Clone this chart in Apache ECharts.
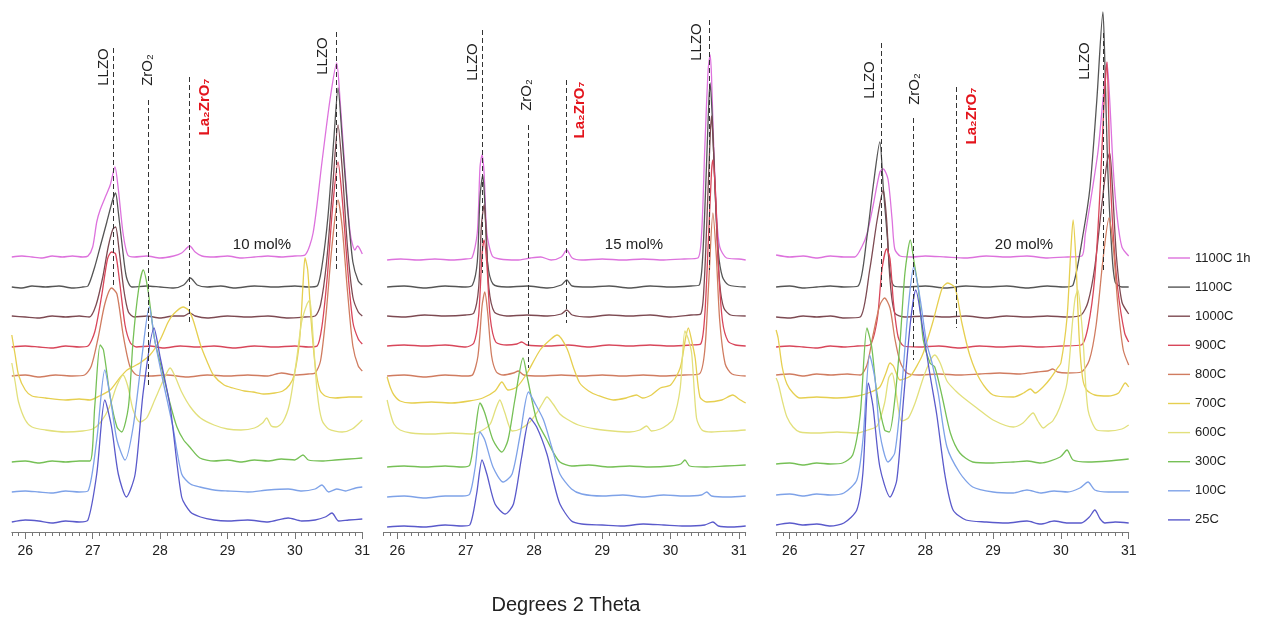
<!DOCTYPE html>
<html>
<head>
<meta charset="utf-8">
<title>XRD LLZO</title>
<script src="https://cdn.jsdelivr.net/npm/echarts@6/dist/echarts.min.js"></script>
</head>
<body style="margin:0">
<div id="container" style="width:1265px;height:622px"></div>
<script>
var FONT = '"Liberation Sans", Arial, Helvetica, sans-serif';

var temps = ['1100C 1h', '1100C', '1000C', '900C', '800C', '700C', '600C', '300C', '100C', '25C'];
var colors = ['#dd72dd', '#555555', '#7d4a52', '#d8465a', '#d07c60', '#e6cf50', '#e2e07c', '#76c056', '#7ea2e8', '#5a5acb'];

// offsets of each pattern (height of its baseline above the axis)
var base10 = [275, 245, 215, 185, 156, 132, 100, 70, 40, 10];
var base15 = [272, 245, 216, 186, 156, 129, 98, 65, 35, 5];
var base20 = [275, 245, 215, 185, 157, 134, 99, 67, 37, 7];

// ---- 10 mol% : [2theta, intensity above baseline]
var c10_1100h = [[25.80,0],[25.95,1],[26.10,0],[26.25,-1],[26.40,1],[26.55,0],[26.70,1],[26.85,0],[26.93,1],[27.00,10],[27.06,35],[27.11,47],[27.20,62],[27.26,72],[27.33,90],[27.38,68],[27.45,24],[27.52,2],[27.62,0],[27.80,1],[28.00,-1],[28.20,1],[28.32,4],[28.44,11],[28.52,5],[28.62,1],[28.80,0],[29.00,1],[29.20,-1],[29.40,0],[29.60,1],[29.80,0],[30.00,1],[30.15,2],[30.27,24],[30.40,94],[30.52,157],[30.62,194],[30.67,157],[30.74,90],[30.82,24],[30.89,7],[30.93,11],[31.00,3]];
var c10_1100 = [[25.80,0],[25.95,-1],[26.10,1],[26.30,0],[26.50,1],[26.70,-1],[26.85,0],[26.93,1],[27.03,20],[27.11,40],[27.21,65],[27.30,88],[27.34,94],[27.38,75],[27.44,40],[27.50,10],[27.58,0],[27.80,1],[28.00,0],[28.20,-1],[28.35,2],[28.45,9],[28.55,2],[28.70,0],[28.90,1],[29.10,-1],[29.40,1],[29.70,0],[30.00,1],[30.20,0],[30.33,1],[30.40,20],[30.49,70],[30.58,150],[30.64,199],[30.70,150],[30.78,80],[30.86,25],[30.94,6],[31.00,2]];
var c10_1000 = [[25.80,1],[26.00,0],[26.20,-1],[26.40,1],[26.60,0],[26.80,1],[26.95,0],[27.05,12],[27.15,40],[27.23,70],[27.30,88],[27.34,90],[27.39,68],[27.46,28],[27.53,5],[27.62,0],[27.80,1],[28.00,-1],[28.20,1],[28.35,1],[28.44,4],[28.52,1],[28.70,-1],[29.00,1],[29.30,0],[29.60,1],[29.90,-1],[30.15,0],[30.30,1],[30.38,12],[30.47,55],[30.56,130],[30.64,192],[30.70,150],[30.78,70],[30.86,20],[30.94,5],[31.00,1]];
var c10_900 = [[25.80,0],[26.00,1],[26.20,0],[26.40,-1],[26.60,1],[26.80,0],[26.93,1],[27.03,15],[27.13,50],[27.22,88],[27.28,95],[27.34,93],[27.40,65],[27.48,22],[27.56,4],[27.65,0],[27.85,1],[28.05,-1],[28.30,1],[28.55,0],[28.80,1],[29.10,-1],[29.40,1],[29.70,0],[30.00,1],[30.20,0],[30.33,1],[30.40,20],[30.48,70],[30.56,140],[30.64,185],[30.70,150],[30.78,80],[30.86,25],[30.94,8],[31.00,3]];
var c10_800 = [[25.80,0],[26.00,1],[26.20,-1],[26.45,1],[26.70,0],[26.88,1],[26.98,10],[27.08,38],[27.18,72],[27.28,88],[27.36,82],[27.45,42],[27.55,10],[27.65,1],[27.85,0],[28.10,1],[28.40,-1],[28.70,1],[29.00,0],[29.30,1],[29.60,0],[29.80,3],[30.00,1],[30.20,2],[30.30,3],[30.38,15],[30.46,60],[30.55,130],[30.64,176],[30.70,150],[30.78,85],[30.86,30],[30.94,10],[31.00,5]];
var c10_700 = [[25.80,65],[25.85,45],[25.90,25],[26.00,10],[26.10,4],[26.30,2],[26.60,0],[26.80,1],[26.96,0],[27.10,4],[27.26,10],[27.40,22],[27.51,30],[27.62,34],[27.70,37],[27.85,45],[28.00,60],[28.12,78],[28.20,86],[28.34,93],[28.42,90],[28.49,80],[28.60,55],[28.70,38],[28.79,25],[28.95,15],[29.08,12],[29.25,9],[29.38,8],[29.55,6],[29.70,7],[29.82,9],[29.92,15],[29.99,25],[30.07,60],[30.12,115],[30.15,142],[30.19,130],[30.24,80],[30.30,35],[30.37,10],[30.45,4],[30.60,2],[30.80,3],[31.00,3]];
var c10_600 = [[25.80,69],[25.85,50],[25.90,30],[26.00,12],[26.10,5],[26.30,2],[26.60,0],[26.85,1],[27.00,3],[27.12,10],[27.25,25],[27.35,45],[27.45,57],[27.52,46],[27.60,22],[27.70,10],[27.80,14],[27.92,32],[28.05,52],[28.15,64],[28.22,56],[28.32,40],[28.45,25],[28.60,14],[28.80,7],[29.00,3],[29.20,2],[29.40,4],[29.52,9],[29.58,14],[29.65,6],[29.72,5],[29.82,10],[29.92,28],[30.02,70],[30.10,110],[30.18,128],[30.22,132],[30.27,95],[30.33,40],[30.40,12],[30.50,3],[30.70,0],[30.85,3],[31.00,12]];
var c10_300 = [[25.80,0],[26.00,1],[26.20,-1],[26.40,1],[26.60,0],[26.80,1],[26.96,1],[27.03,55],[27.11,117],[27.16,112],[27.26,65],[27.36,35],[27.43,30],[27.53,55],[27.60,122],[27.68,172],[27.75,192],[27.82,172],[27.92,122],[28.04,89],[28.15,58],[28.25,35],[28.35,22],[28.44,15],[28.59,4],[28.80,1],[29.00,2],[29.20,0],[29.40,2],[29.60,1],[29.80,3],[30.00,2],[30.12,7],[30.20,2],[30.40,1],[30.60,2],[30.80,3],[31.00,4]];
var c10_100 = [[25.80,0],[26.00,1],[26.20,0],[26.40,-1],[26.60,1],[26.80,0],[26.93,1],[27.06,52],[27.18,122],[27.26,95],[27.36,52],[27.48,32],[27.60,65],[27.73,135],[27.84,185],[27.92,152],[28.04,112],[28.19,65],[28.32,18],[28.45,8],[28.59,5],[28.80,2],[29.00,1],[29.30,0],[29.60,2],[29.90,3],[30.10,1],[30.30,3],[30.40,7],[30.50,0],[30.62,3],[30.75,1],[30.90,4],[31.00,5]];
var c10_25 = [[25.80,0],[26.00,2],[26.20,1],[26.40,-1],[26.60,1],[26.80,0],[26.93,2],[27.06,48],[27.18,122],[27.28,95],[27.38,48],[27.50,25],[27.63,48],[27.75,130],[27.91,194],[28.00,165],[28.15,115],[28.32,25],[28.45,10],[28.60,5],[28.80,2],[29.00,1],[29.30,2],[29.60,0],[29.90,4],[30.10,1],[30.30,2],[30.45,5],[30.55,9],[30.65,1],[30.80,2],[31.00,3]];

// ---- 15 mol%
var c15_1100h = [[25.85,0],[26.05,1],[26.30,0],[26.55,1],[26.80,0],[27.00,1],[27.09,2],[27.17,27],[27.21,93],[27.24,105],[27.27,87],[27.31,27],[27.39,4],[27.50,1],[27.75,0],[27.95,2],[28.10,3],[28.25,0],[28.40,3],[28.48,10],[28.56,2],[28.70,0],[29.00,1],[29.30,0],[29.60,1],[29.90,0],[30.20,1],[30.40,2],[30.455,27],[30.50,110],[30.55,190],[30.58,205],[30.60,183],[30.625,127],[30.675,43],[30.72,13],[30.82,2],[31.00,1],[31.10,0]];
var c15_1100 = [[25.85,0],[26.10,1],[26.40,-1],[26.70,1],[27.00,0],[27.10,2],[27.17,25],[27.21,90],[27.25,112],[27.28,85],[27.32,25],[27.40,3],[27.60,0],[27.90,1],[28.20,-1],[28.40,2],[28.48,7],[28.56,1],[28.80,0],[29.10,1],[29.40,-1],[29.70,1],[30.00,0],[30.30,1],[30.42,2],[30.47,30],[30.52,110],[30.56,185],[30.58,204],[30.61,170],[30.65,100],[30.70,35],[30.76,10],[30.85,2],[31.10,0]];
var c15_1000 = [[25.85,0],[26.10,-1],[26.40,1],[26.70,0],[27.00,1],[27.12,3],[27.19,28],[27.23,90],[27.27,111],[27.30,85],[27.34,28],[27.42,4],[27.60,0],[27.90,1],[28.20,0],[28.40,2],[28.48,6],[28.56,1],[28.80,-1],[29.10,1],[29.40,0],[29.70,1],[30.00,-1],[30.30,1],[30.44,2],[30.49,30],[30.54,110],[30.58,180],[30.60,200],[30.63,165],[30.67,95],[30.72,32],[30.78,8],[30.88,1],[31.10,0]];
var c15_900 = [[25.85,0],[26.10,1],[26.40,0],[26.70,1],[27.00,-1],[27.12,3],[27.19,30],[27.24,92],[27.27,106],[27.31,82],[27.36,28],[27.44,4],[27.60,1],[27.75,2],[27.82,4],[27.90,1],[28.20,0],[28.50,1],[28.80,-1],[29.10,1],[29.40,0],[29.70,1],[30.00,0],[30.30,1],[30.44,2],[30.50,30],[30.55,100],[30.60,175],[30.62,186],[30.66,150],[30.70,80],[30.76,25],[30.84,5],[30.95,1],[31.10,0]];
var c15_800 = [[25.85,0],[26.10,1],[26.40,-1],[26.70,1],[27.00,0],[27.10,1],[27.18,20],[27.24,70],[27.28,84],[27.32,65],[27.38,20],[27.45,4],[27.55,1],[27.70,3],[27.77,5],[27.85,1],[28.10,0],[28.40,1],[28.70,0],[29.00,1],[29.30,0],[29.60,1],[29.90,0],[30.20,1],[30.42,2],[30.50,25],[30.56,95],[30.62,163],[30.67,120],[30.72,55],[30.80,12],[30.90,2],[31.10,0]];
var c15_700 = [[25.85,26],[25.90,15],[25.95,8],[26.04,2],[26.20,0],[26.50,1],[26.80,0],[27.05,2],[27.25,5],[27.43,12],[27.53,21],[27.62,13],[27.75,16],[27.90,30],[28.09,53],[28.25,64],[28.34,68],[28.48,55],[28.58,35],[28.67,20],[28.80,12],[28.92,8],[29.16,3],[29.35,5],[29.50,8],[29.59,5],[29.72,8],[29.85,15],[30.00,18],[30.14,35],[30.22,65],[30.26,75],[30.31,62],[30.36,45],[30.43,6],[30.53,1],[30.75,3],[30.91,8],[31.00,4],[31.10,0]];
var c15_600 = [[25.85,34],[25.90,20],[25.95,10],[26.04,4],[26.20,1],[26.50,0],[26.80,1],[27.10,0],[27.25,4],[27.36,10],[27.44,25],[27.50,34],[27.57,22],[27.68,3],[27.80,5],[27.94,12],[28.05,22],[28.12,30],[28.19,37],[28.28,30],[28.38,20],[28.48,15],[28.65,9],[28.90,5],[29.15,3],[29.40,2],[29.55,4],[29.65,8],[29.72,3],[29.85,5],[29.95,9],[30.04,15],[30.14,45],[30.21,103],[30.26,95],[30.31,80],[30.38,16],[30.46,4],[30.60,2],[30.90,3],[31.10,4]];
var c15_300 = [[25.85,0],[26.10,1],[26.40,0],[26.70,1],[26.95,0],[27.06,2],[27.14,36],[27.21,64],[27.28,54],[27.40,27],[27.53,15],[27.62,27],[27.72,67],[27.84,109],[27.91,87],[28.04,47],[28.19,27],[28.28,15],[28.38,5],[28.55,1],[28.80,2],[29.10,0],[29.40,1],[29.70,0],[30.00,1],[30.15,3],[30.21,7],[30.28,1],[30.50,0],[30.80,1],[31.10,2]];
var c15_100 = [[25.85,0],[26.10,1],[26.40,-1],[26.70,1],[26.95,1],[27.06,3],[27.14,30],[27.21,65],[27.28,57],[27.40,30],[27.55,15],[27.68,23],[27.80,63],[27.92,105],[28.02,93],[28.14,77],[28.26,50],[28.38,23],[28.55,8],[28.70,3],[29.00,1],[29.30,2],[29.60,0],[29.90,2],[30.20,1],[30.45,2],[30.53,5],[30.60,1],[30.85,0],[31.10,1]];
var c15_25 = [[25.85,0],[26.10,1],[26.40,0],[26.70,2],[26.95,1],[27.06,2],[27.16,33],[27.24,67],[27.31,53],[27.43,23],[27.58,13],[27.70,23],[27.82,70],[27.94,109],[28.04,100],[28.19,73],[28.28,47],[28.38,23],[28.55,6],[28.70,3],[29.00,2],[29.30,1],[29.60,3],[29.90,2],[30.20,1],[30.50,2],[30.62,5],[30.70,1],[30.90,0],[31.10,1]];

// ---- 20 mol%
var c20_1100h = [[25.80,2],[26.00,0],[26.20,1],[26.40,-1],[26.60,1],[26.80,0],[26.96,0],[27.07,11],[27.14,23],[27.23,51],[27.33,85],[27.38,88],[27.45,78],[27.51,38],[27.55,8],[27.63,1],[27.80,0],[28.00,1],[28.30,0],[28.60,-1],[28.90,1],[29.20,0],[29.50,1],[29.80,-1],[30.10,0],[30.31,1],[30.36,23],[30.40,40],[30.47,70],[30.55,107],[30.62,157],[30.68,194],[30.72,157],[30.77,90],[30.83,40],[30.90,10],[31.00,1]];
var c20_1100 = [[25.80,0],[26.00,1],[26.20,-1],[26.40,0],[26.60,1],[26.80,0],[27.01,1],[27.14,50],[27.23,100],[27.33,145],[27.38,100],[27.44,50],[27.48,15],[27.54,1],[27.70,0],[28.00,1],[28.30,-1],[28.60,1],[28.90,0],[29.20,1],[29.50,-1],[29.80,1],[30.05,0],[30.18,2],[30.33,54],[30.43,100],[30.53,187],[30.62,275],[30.65,220],[30.69,120],[30.75,37],[30.80,5],[30.90,0],[31.00,0]];
var c20_1000 = [[25.80,0],[26.00,-1],[26.20,1],[26.40,0],[26.60,1],[26.80,-1],[27.04,0],[27.18,47],[27.29,97],[27.38,127],[27.43,97],[27.48,37],[27.55,4],[27.70,0],[28.00,1],[28.30,0],[28.60,1],[28.90,-1],[29.20,1],[29.50,0],[29.80,1],[30.10,0],[30.30,2],[30.40,15],[30.50,50],[30.60,110],[30.68,155],[30.72,164],[30.76,130],[30.82,60],[30.90,15],[31.00,3]];
var c20_900 = [[25.80,0],[26.00,1],[26.20,0],[26.40,-1],[26.60,1],[26.80,0],[27.00,1],[27.18,2],[27.29,27],[27.36,77],[27.43,98],[27.48,88],[27.53,45],[27.60,10],[27.68,1],[27.90,0],[28.20,1],[28.50,-1],[28.80,1],[29.10,0],[29.40,1],[29.70,0],[30.00,1],[30.30,2],[30.40,20],[30.50,70],[30.58,160],[30.64,250],[30.68,285],[30.72,185],[30.77,115],[30.84,57],[30.94,14],[31.00,5]];
var c20_800 = [[25.80,0],[26.00,1],[26.20,-1],[26.40,1],[26.60,0],[26.85,1],[27.04,0],[27.14,10],[27.23,40],[27.33,70],[27.40,77],[27.48,67],[27.55,37],[27.63,13],[27.73,2],[27.90,0],[28.20,1],[28.50,0],[28.80,1],[29.10,2],[29.40,1],[29.65,3],[29.80,4],[29.88,6],[29.95,3],[30.10,2],[30.30,3],[30.42,15],[30.52,50],[30.62,115],[30.71,157],[30.77,130],[30.84,70],[30.92,25],[31.00,10]];
var c20_700 = [[25.80,68],[25.83,60],[25.89,31],[25.96,14],[26.05,5],[26.15,0],[26.40,1],[26.70,0],[27.00,2],[27.20,6],[27.33,11],[27.42,25],[27.48,35],[27.53,32],[27.63,18],[27.78,22],[27.90,35],[27.97,45],[28.05,62],[28.12,78],[28.25,110],[28.33,115],[28.44,110],[28.54,75],[28.66,42],[28.81,18],[29.00,3],[29.30,1],[29.45,5],[29.55,9],[29.62,5],[29.75,12],[29.85,20],[29.95,30],[30.00,35],[30.09,80],[30.14,140],[30.18,178],[30.22,140],[30.27,60],[30.32,20],[30.38,8],[30.50,3],[30.70,2],[30.85,5],[30.95,15],[31.00,11]];
var c20_600 = [[25.80,55],[25.83,50],[25.90,30],[25.96,16],[26.05,6],[26.15,1],[26.40,0],[26.70,1],[27.00,0],[27.15,3],[27.29,7],[27.40,30],[27.46,55],[27.51,60],[27.57,40],[27.65,12],[27.75,15],[27.85,30],[27.97,55],[28.07,72],[28.14,78],[28.22,70],[28.32,52],[28.45,42],[28.55,36],[28.76,25],[29.00,13],[29.30,6],[29.44,10],[29.59,20],[29.66,12],[29.74,5],[29.82,9],[29.88,12],[29.98,25],[30.09,50],[30.17,110],[30.21,135],[30.25,143],[30.30,115],[30.33,90],[30.40,23],[30.53,3],[30.70,2],[30.90,4],[31.00,8]];
var c20_300 = [[25.80,1],[26.00,2],[26.20,0],[26.40,2],[26.60,1],[26.78,2],[26.93,10],[27.04,50],[27.14,137],[27.21,118],[27.28,75],[27.40,35],[27.47,33],[27.55,65],[27.63,125],[27.70,192],[27.78,225],[27.83,205],[27.90,175],[27.97,125],[28.07,102],[28.14,98],[28.25,68],[28.37,32],[28.51,12],[28.70,3],[29.00,2],[29.30,3],[29.50,4],[29.70,2],[29.99,8],[30.09,15],[30.18,5],[30.40,3],[30.70,4],[31.00,6]];
var c20_100 = [[25.80,0],[26.00,1],[26.20,-1],[26.40,1],[26.60,0],[26.80,2],[26.99,15],[27.08,55],[27.18,140],[27.26,115],[27.33,62],[27.45,33],[27.55,42],[27.65,105],[27.75,188],[27.83,228],[27.92,198],[28.02,152],[28.10,132],[28.19,102],[28.32,48],[28.51,22],[28.70,8],[29.00,3],[29.30,2],[29.50,5],[29.70,2],[29.90,4],[30.10,3],[30.28,7],[30.40,13],[30.50,5],[30.70,3],[31.00,3]];
var c20_25 = [[25.80,0],[26.00,2],[26.20,0],[26.40,1],[26.60,-1],[26.80,2],[26.99,15],[27.08,52],[27.16,142],[27.23,118],[27.33,58],[27.48,28],[27.58,45],[27.67,118],[27.78,202],[27.86,235],[27.97,193],[28.07,150],[28.17,110],[28.29,50],[28.41,15],[28.60,5],[28.90,3],[29.20,2],[29.50,4],[29.70,1],[29.90,4],[30.10,2],[30.30,2],[30.42,8],[30.50,15],[30.58,6],[30.65,2],[30.80,3],[31.00,2]];

// reference phase lines: [2theta, top, bottom] (height above axis)
var refs10 = [[27.30, 484, 244], [27.82, 432, 145], [28.44, 455, 210], [30.62, 500, 260]];
var refs15 = [[27.25, 502, 259], [27.91, 407, 164], [28.47, 452, 209], [30.56, 512, 262]];
var refs20 = [[27.35, 489, 245], [27.82, 414, 172], [28.45, 445, 204], [30.62, 499, 259]];

var panelNames = ['10 mol%', '15 mol%', '20 mol%'];

// layout of the three panels (pixels)
var panels = [
    {curves: [c10_1100h, c10_1100, c10_1000, c10_900, c10_800, c10_700, c10_600, c10_300, c10_100, c10_25], base: base10, refs: refs10, max: 31.0, left: 11.8, width: 350.5, tickLeft: 25.3, tickWidth: 337, nameX: 262, labels: [104, 67, 148, 70, 205, 107, 323, 56]},
    {curves: [c15_1100h, c15_1100, c15_1000, c15_900, c15_800, c15_700, c15_600, c15_300, c15_100, c15_25], base: base15, refs: refs15, max: 31.1, left: 383.7, width: 362, tickLeft: 397.4, tickWidth: 341.5, nameX: 634, labels: [473, 62, 527, 95, 580, 110, 697, 42]},
    {curves: [c20_1100h, c20_1100, c20_1000, c20_900, c20_800, c20_700, c20_600, c20_300, c20_100, c20_25], base: base20, refs: refs20, max: 31.0, left: 776.1, width: 352.6, tickLeft: 789.7, tickWidth: 339, nameX: 1024, labels: [870, 80, 915, 89, 972, 116, 1085, 61]}
];

var chartDom = document.getElementById('container');
var myChart = echarts.init(chartDom, null, {renderer: 'canvas'});

var grid = [], xAxis = [], yAxis = [], series = [], graphic = [];
var phaseText = ['LLZO', 'ZrO\u2082', 'La\u2082ZrO\u2087', 'LLZO'];

panels.forEach(function (p, i) {
    grid.push({left: p.left, top: 0, width: p.width, height: 532, outerBoundsMode: 'none'});
    grid.push({left: p.tickLeft, top: 0, width: p.tickWidth, height: 532, outerBoundsMode: 'none'});
    // minor ticks every 0.1
    xAxis.push({
        type: 'value', gridIndex: 2 * i, min: 25.8, max: p.max, interval: 0.1,
        axisLine: {lineStyle: {color: '#777', width: 1}},
        axisTick: {length: 4, lineStyle: {color: '#777'}},
        axisLabel: {show: false}, splitLine: {show: false}
    });
    // major ticks + labels
    xAxis.push({
        type: 'value', gridIndex: 2 * i + 1, min: 26, max: 31, interval: 1,
        axisLine: {show: false},
        axisTick: {length: 7, lineStyle: {color: '#777'}},
        axisLabel: {fontSize: 14, color: '#222', margin: 12, fontFamily: FONT},
        splitLine: {show: false}
    });
    yAxis.push({type: 'value', gridIndex: 2 * i, min: 0, max: 532, show: false});
    yAxis.push({type: 'value', gridIndex: 2 * i + 1, min: 0, max: 532, show: false});

    p.curves.forEach(function (curve, j) {
        var s = {
            type: 'line', name: temps[j], xAxisIndex: 2 * i, yAxisIndex: 2 * i,
            symbol: 'none', smooth: 0.25, silent: true,
            lineStyle: {width: 1.3, color: colors[j]},
            itemStyle: {color: colors[j]},
            data: curve.map(function (d) { return [d[0], p.base[j] + d[1]]; })
        };
        if (j === 0) {
            s.markLine = {
                silent: true, symbol: ['none', 'none'], label: {show: false},
                lineStyle: {type: [5, 3], color: '#333', width: 1},
                data: p.refs.map(function (r) {
                    return [{coord: [r[0], r[1]]}, {coord: [r[0], r[2]]}];
                })
            };
        }
        series.push(s);
    });

    phaseText.forEach(function (t, k) {
        var red = k === 2;
        graphic.push({
            type: 'text', x: p.labels[2 * k], y: p.labels[2 * k + 1], rotation: Math.PI / 2,
            style: {
                text: t, fontSize: 15, fontFamily: FONT, fontWeight: red ? 'bold' : 'normal',
                fill: red ? '#e3141c' : '#222', textAlign: 'center', textVerticalAlign: 'middle'
            }
        });
    });
    graphic.push({
        type: 'text', x: p.nameX, y: 245,
        style: {text: panelNames[i], fontSize: 15, fontFamily: FONT, fill: '#222', textAlign: 'center', textVerticalAlign: 'middle'}
    });
});

graphic.push({
    type: 'text', x: 566, y: 605,
    style: {text: 'Degrees 2 Theta', fontSize: 20, fontFamily: FONT, fill: '#222', textAlign: 'center', textVerticalAlign: 'middle'}
});

var option = {
    backgroundColor: '#fff',
    animation: false,
    grid: grid,
    xAxis: xAxis,
    yAxis: yAxis,
    legend: {
        data: temps, orient: 'vertical', left: 1168, top: 251, padding: 0,
        icon: 'path://M0,0H22V1.4H0Z', symbolKeepAspect: true,
        itemWidth: 22, itemHeight: 14, itemGap: 15.1,
        textStyle: {fontSize: 13, color: '#222', fontFamily: FONT, lineHeight: 14},
        selectedMode: false
    },
    graphic: {elements: graphic},
    series: series
};

myChart.setOption(option);
</script>
</body>
</html>
